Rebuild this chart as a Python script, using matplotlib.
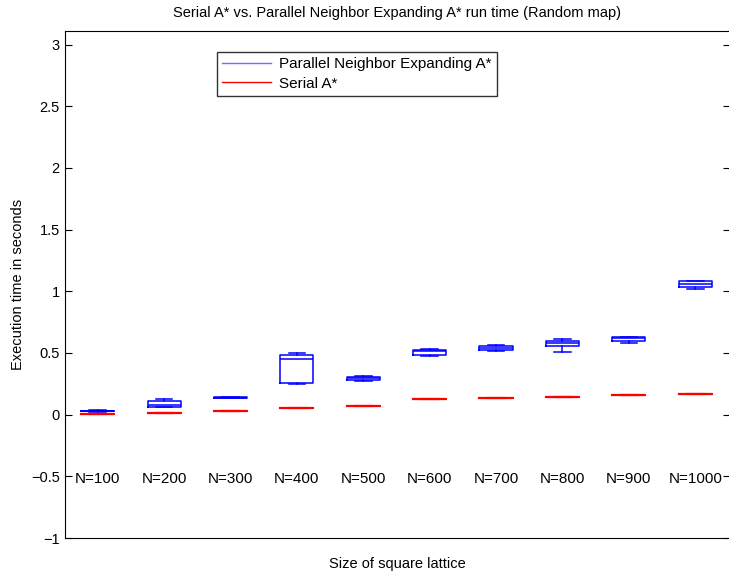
import numpy as np
import matplotlib.pyplot as plt

plt.rcParams['font.family'] = ['Liberation Sans', 'DejaVu Sans']

labels = ['N=100', 'N=200', 'N=300', 'N=400', 'N=500', 'N=600', 'N=700', 'N=800', 'N=900', 'N=1000']

# parallel neighbor expanding A* box stats (seconds)
par_lo = [0.025, 0.060, 0.132, 0.252, 0.274, 0.478, 0.512, 0.507, 0.582, 1.020]
par_q1 = [0.027, 0.066, 0.134, 0.260, 0.282, 0.480, 0.523, 0.558, 0.596, 1.037]
par_med = [0.030, 0.075, 0.138, 0.453, 0.300, 0.518, 0.542, 0.577, 0.622, 1.061]
par_q3 = [0.033, 0.110, 0.141, 0.485, 0.309, 0.528, 0.558, 0.596, 0.628, 1.083]
par_hi = [0.035, 0.126, 0.143, 0.501, 0.312, 0.530, 0.566, 0.612, 0.630, 1.085]

# serial A* (no spread)
ser = [0.009, 0.014, 0.033, 0.058, 0.071, 0.128, 0.131, 0.144, 0.161, 0.166]

pos = np.arange(1, len(labels) + 1)

fig = plt.figure(figsize=(7.29, 5.72), dpi=100)
ax = fig.add_axes([0.0885, 0.0594, 0.9125, 0.8864])

stats_p = []
for i in range(len(labels)):
    stats_p.append(dict(whislo=par_lo[i], q1=par_q1[i], med=par_med[i],
                        q3=par_q3[i], whishi=par_hi[i], fliers=[]))
stats_s = []
for v in ser:
    stats_s.append(dict(whislo=v, q1=v, med=v, q3=v, whishi=v, fliers=[]))

blue = dict(color='#0000ff', linewidth=1.1)
ax.bxp(stats_p, positions=pos, widths=0.5, boxprops=blue, whiskerprops=blue,
       capprops=blue, medianprops=blue, capwidths=0.25, manage_ticks=False)
red = dict(color='#ff0000', linewidth=1.5)
ax.bxp(stats_s, positions=pos, widths=0.5, boxprops=red, whiskerprops=red,
       capprops=red, medianprops=red, capwidths=0.25, manage_ticks=False)

for p, lab in zip(pos, labels):
    ax.text(p, -0.52, lab, ha='center', va='center', fontsize=11)

ax.set_xlim(0.5, 10.52)
ax.set_ylim(-1, 3.11)
ax.set_yticks(np.arange(-1, 3.01, 0.5))
ax.set_yticklabels(['\u22121', '\u22120.5', '0', '0.5', '1', '1.5', '2', '2.5', '3'])
ax.set_xticks([])
ax.tick_params(axis='y', direction='in', right=True, labelsize=10.5, length=5)

ax.set_title('Serial A* vs. Parallel Neighbor Expanding A* run time (Random map)',
             fontsize=10.5, pad=10)
ax.set_xlabel('Size of square lattice', fontsize=10.5, labelpad=14)
ax.set_ylabel('Execution time in seconds', fontsize=10.5)

h1, = ax.plot([], [], color='#7070ff', linewidth=1)
h2, = ax.plot([], [], color='#ff0000', linewidth=1)
leg = ax.legend([h1, h2], ['Parallel Neighbor Expanding A*', 'Serial A*'],
                loc='upper left', bbox_to_anchor=(0.229, 0.9586), fontsize=11,
                frameon=True, fancybox=False, edgecolor='black',
                borderpad=0.35, labelspacing=0.35, handlelength=3.2,
                handletextpad=0.5, borderaxespad=0)
leg.get_frame().set_linewidth(1.0)

plt.savefig('out.png', dpi=100)
